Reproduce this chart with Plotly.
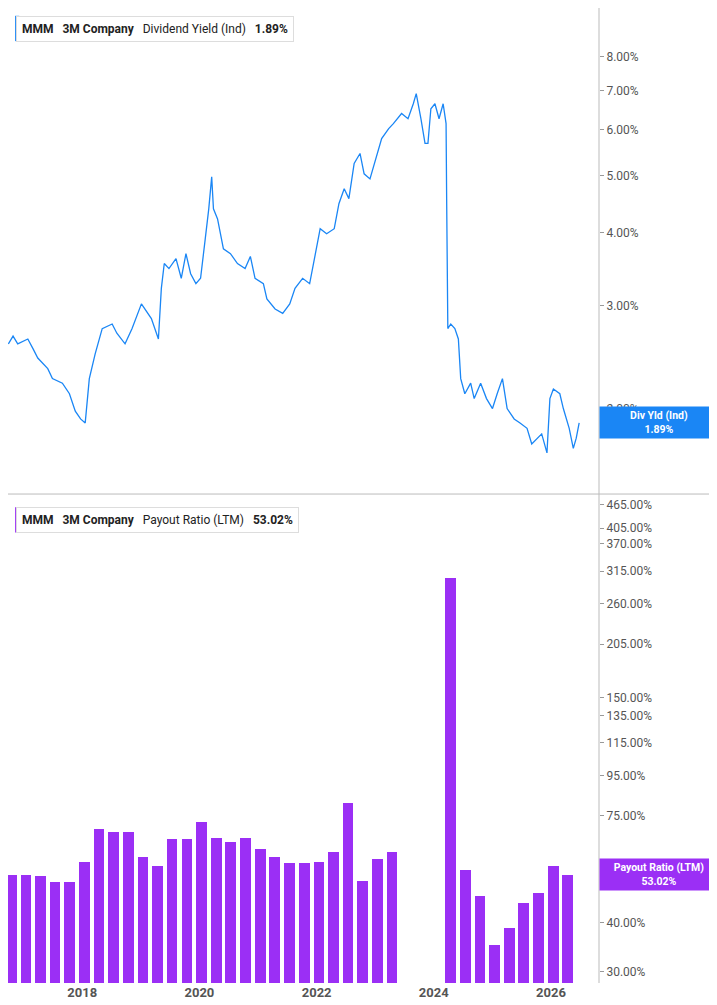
import numpy as np
import pandas as pd
import plotly.graph_objects as go
from plotly.subplots import make_subplots

# Dividend yield (%), sampled along the trace; time as decimal years
yield_t = [2016.74, 2016.82, 2016.90, 2017.07, 2017.16, 2017.24, 2017.41, 2017.49, 2017.66, 2017.78,
           2017.88, 2017.97, 2018.05, 2018.12, 2018.22, 2018.34, 2018.51, 2018.59, 2018.73, 2018.85,
           2019.01, 2019.18, 2019.30, 2019.35, 2019.40, 2019.48, 2019.60, 2019.69, 2019.77, 2019.85,
           2019.94, 2020.02, 2020.10, 2020.16, 2020.21, 2020.24, 2020.31, 2020.41, 2020.53, 2020.65,
           2020.78, 2020.87, 2020.95, 2021.09, 2021.15, 2021.29, 2021.42, 2021.54, 2021.63, 2021.76,
           2021.88, 2021.96, 2022.06, 2022.17, 2022.30, 2022.38, 2022.47, 2022.55, 2022.64, 2022.74,
           2022.81, 2022.91, 2023.01, 2023.11, 2023.23, 2023.31, 2023.45, 2023.56, 2023.65, 2023.70,
           2023.78, 2023.85, 2023.90, 2023.95, 2024.02, 2024.09, 2024.16, 2024.21, 2024.22, 2024.24,
           2024.29, 2024.36, 2024.42, 2024.46, 2024.53, 2024.63, 2024.69, 2024.80, 2024.90, 2025.00,
           2025.08, 2025.17, 2025.25, 2025.37, 2025.47, 2025.59, 2025.67, 2025.76, 2025.84, 2025.93,
           2025.98, 2026.04, 2026.15, 2026.21, 2026.31, 2026.38, 2026.43, 2026.48]
yield_pct = [2.58, 2.66, 2.58, 2.63, 2.53, 2.44, 2.34, 2.25, 2.21, 2.12,
             1.98, 1.92, 1.89, 2.25, 2.48, 2.74, 2.79, 2.69, 2.58, 2.74,
             3.02, 2.85, 2.63, 3.21, 3.54, 3.47, 3.61, 3.34, 3.68, 3.40,
             3.27, 3.34, 3.90, 4.39, 4.98, 4.39, 4.22, 3.75, 3.68, 3.54,
             3.47, 3.64, 3.34, 3.27, 3.08, 2.96, 2.91, 3.02, 3.21, 3.34,
             3.27, 3.61, 4.06, 3.98, 4.06, 4.48, 4.75, 4.57, 5.25, 5.46,
             5.04, 4.94, 5.35, 5.79, 6.02, 6.14, 6.39, 6.26, 6.64, 6.91,
             6.26, 5.68, 5.68, 6.51, 6.64, 6.26, 6.64, 6.14, 4.57, 2.74,
             2.79, 2.74, 2.63, 2.25, 2.12, 2.21, 2.08, 2.21, 2.08, 2.00,
             2.12, 2.25, 2.00, 1.92, 1.89, 1.85, 1.74, 1.78, 1.81, 1.68,
             2.08, 2.16, 2.12, 2.00, 1.85, 1.71, 1.78, 1.89]

# Payout ratio (LTM, %), quarterly
payout_q = ["2016-10-15", "2017-01-15", "2017-04-15", "2017-07-15", "2017-10-15",
            "2018-01-15", "2018-04-15", "2018-07-15", "2018-10-15", "2019-01-15",
            "2019-04-15", "2019-07-15", "2019-10-15", "2020-01-15", "2020-04-15",
            "2020-07-15", "2020-10-15", "2021-01-15", "2021-04-15", "2021-07-15",
            "2021-10-15", "2022-01-15", "2022-04-15", "2022-07-15", "2022-10-15",
            "2023-01-15", "2023-04-15", "2024-04-15", "2024-07-15", "2024-10-15",
            "2025-01-15", "2025-04-15", "2025-07-15", "2025-10-15", "2026-01-15",
            "2026-04-15"]
payout_pct = [53.0, 53.0, 52.8, 50.9, 50.7, 57.3, 69.5, 68.0, 68.0, 59.0,
              56.0, 65.6, 65.6, 72.4, 66.0, 64.4, 66.0, 61.8, 58.9, 57.0,
              57.0, 57.3, 60.5, 81.0, 51.2, 58.2, 60.6, 302.0, 54.6, 46.9,
              35.2, 38.9, 45.0, 47.7, 56.0, 53.0]

top_ticks = [2, 3, 4, 5, 6, 7, 8]
bot_ticks = [30, 40, 50, 75, 95, 115, 135, 150, 205, 260, 315, 370, 405, 465]

BLUE = "#1a86f5"
PURPLE = "#9b2ff5"
GRAY = "#555555"


def to_date(y):
    yr = int(np.floor(y))
    return pd.Timestamp(year=yr, month=1, day=1) + pd.Timedelta(days=(y - yr) * 365.25)


x_yield = [to_date(t) for t in yield_t]

fig = make_subplots(rows=2, cols=1, shared_xaxes=True, vertical_spacing=0.003)

fig.add_trace(go.Scatter(x=x_yield, y=yield_pct, mode="lines",
                         line=dict(color=BLUE, width=1.3), showlegend=False), row=1, col=1)
fig.add_trace(go.Bar(x=pd.to_datetime(payout_q), y=payout_pct, marker_color=PURPLE,
                     marker_line_width=0, width=67 * 86400000, showlegend=False), row=2, col=1)

xr = [pd.Timestamp("2016-09-25"), pd.Timestamp("2026-10-27")]
fig.update_xaxes(range=xr, showgrid=False, zeroline=False, showline=False)
fig.update_xaxes(row=2, col=1, tickvals=[pd.Timestamp(f"{y}-01-01") for y in range(2018, 2027, 2)],
                 ticktext=[f"<b>{y}</b>" for y in range(2018, 2027, 2)],
                 tickfont=dict(size=13, color=GRAY), ticks="")

top_shift = 0.0154
bot_shift = 0.018
fig.update_yaxes(row=1, col=1, type="log", side="right",
                 range=[np.log10(1.48) - top_shift, np.log10(10.03) - top_shift],
                 tickvals=top_ticks, ticktext=[f"{v:.2f}%" for v in top_ticks],
                 showgrid=False, zeroline=False, ticks="outside", ticklen=4, tickcolor="#999",
                 tickfont=dict(size=12, color=GRAY))
fig.update_yaxes(row=2, col=1, type="log", side="right",
                 range=[np.log10(29.3) - bot_shift, np.log10(507) - bot_shift],
                 tickvals=bot_ticks, ticktext=[f"{v:.2f}%" for v in bot_ticks],
                 showgrid=False, zeroline=False, ticks="outside", ticklen=4, tickcolor="#999",
                 tickfont=dict(size=12, color=GRAY))

fig.update_layout(width=717, height=1005, margin=dict(l=0, r=126, t=0, b=30),
                  plot_bgcolor="white", paper_bgcolor="white", bargap=0,
                  font=dict(family="Roboto, Inter, sans-serif", color="#222"))

# separators
fig.add_shape(type="line", xref="paper", yref="paper", x0=0, x1=1.25, y0=0.5015, y1=0.5015,
              line=dict(color="#bbbbbb", width=1))
fig.add_shape(type="line", xref="paper", yref="paper", x0=1, x1=1, y0=0, y1=1,
              line=dict(color="#bbbbbb", width=1))

# header boxes
for ytop, color, label in [(0.992, BLUE, "<b>MMM</b>   <b>3M Company</b>   Dividend Yield (Ind)   <b>1.89%</b>"),
                           (0.488, PURPLE, "<b>MMM</b>   <b>3M Company</b>   Payout Ratio (LTM)   <b>53.02%</b>")]:
    fig.add_annotation(xref="paper", yref="paper", x=0.014, y=ytop, xanchor="left", yanchor="top",
                       text=label, showarrow=False, font=dict(size=12, color="#222"),
                       bgcolor="white", bordercolor="#dddddd", borderwidth=1, borderpad=5)
    fig.add_shape(type="rect", xref="paper", yref="paper", x0=0.012, x1=0.019,
                  y0=ytop - 0.026, y1=ytop, fillcolor=color, line_width=0)

# right value labels
fig.add_annotation(xref="paper", yref="y", x=1.0, y=np.log10(1.89), xanchor="left",
                   text="<b>Div Yld (Ind)</b><br><b>1.89%</b>", showarrow=False,
                   font=dict(size=10.5, color="white"), bgcolor=BLUE, borderpad=2, width=114)
fig.add_annotation(xref="paper", yref="y2", x=1.0, y=np.log10(53.02), xanchor="left",
                   text="<b>Payout Ratio (LTM)</b><br><b>53.02%</b>", showarrow=False,
                   font=dict(size=10.5, color="white"), bgcolor=PURPLE, borderpad=2, width=114)

fig.write_html("out.html")
